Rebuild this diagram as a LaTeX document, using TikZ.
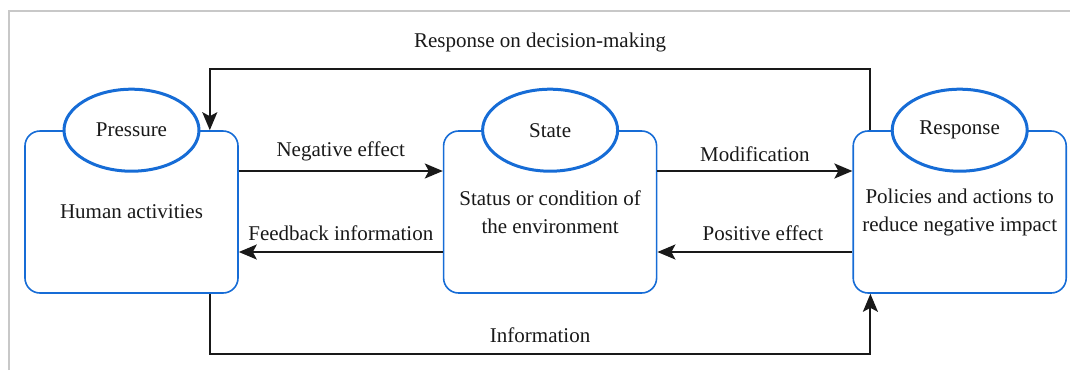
\documentclass[tikz,border=0pt]{standalone}
\usepackage{fontspec}
\setmainfont{Liberation Serif}
\usetikzlibrary{positioning,arrows.meta,shapes.geometric}
\definecolor{boxblue}{RGB}{22,108,214}
\definecolor{framegray}{RGB}{200,200,200}
\definecolor{ink}{RGB}{25,25,25}

\begin{document}
\begin{tikzpicture}[
        x=0.5pt, y=-0.5pt,
        font=\fontsize{10.5}{14}\selectfont, text=ink,
        box/.style={rectangle, draw=boxblue, thick, rounded corners=7.5pt, minimum width=106.5pt, minimum height=81pt, align=center},
        tag/.style={ellipse, draw=boxblue, line width=1.5pt, fill=white, minimum width=67.5pt, minimum height=41pt, inner sep=0pt},
        flow/.style={draw=ink, line width=1pt, -{Stealth[length=9pt, width=7.5pt, inset=2pt]}},
        node distance=102pt
    ]
    \useasboundingbox (0,0) rectangle (1070,370);
    \draw[framegray, line width=0.8pt] (9,370) -- (9,11) -- (1070,11);

    \node[box]    (pbox)  at (131.5,212)       {Human activities};
    \node[box]    (sbox)  [right=of pbox]      {Status or condition of\\the environment};
    \node[box]    (rbox)  [right=97.5pt of sbox] {Policies and actions to\\reduce negative impact};

    \node[tag]    (ptag)  at (pbox.north) {Pressure};
    \node[tag]    (stag)  at (sbox.north) {State};
    \node[tag]    (rtag)  at (rbox.north) {Response};

    \draw[flow] ([yshift=20.5pt]pbox.east) -- node[above=1pt] {Negative effect} ([yshift=20.5pt]sbox.west);
    \draw[flow] ([yshift=-20pt]sbox.west) -- node[above=2pt] {Feedback information} ([yshift=-20pt]pbox.east);
    \draw[flow] ([yshift=20.5pt]sbox.east) -- node[above=1pt] {Modification} ([yshift=20.5pt]rbox.west);
    \draw[flow] ([yshift=-20pt]rbox.west) -- node[above=2pt, xshift=4pt] {Positive effect} ([yshift=-20pt]sbox.east);

    \draw[flow] ([xshift=9pt]rbox.north west) -- ++(0,-61) -| node[pos=0.25, above=5pt] {Response on decision-making} ([xshift=-14.5pt]pbox.north east);
    \draw[flow] ([xshift=-14.5pt]pbox.south east) -- ++(0,60) -| node[pos=0.25, above=1.5pt] {Information} ([xshift=9pt]rbox.south west);
\end{tikzpicture}
\end{document}
